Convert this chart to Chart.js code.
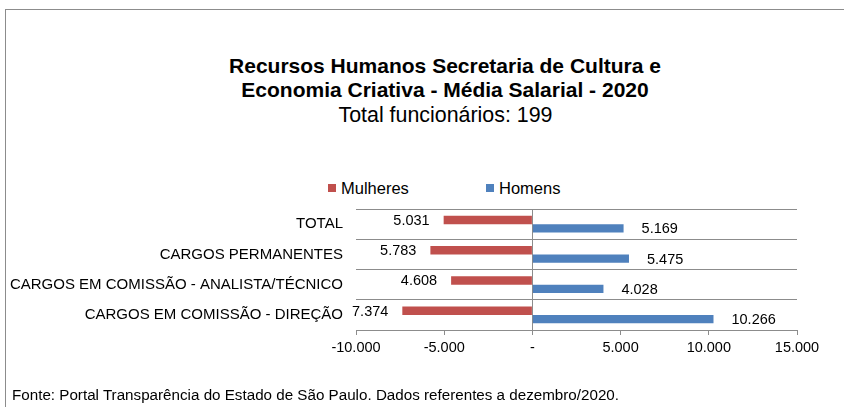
<!DOCTYPE html>
<html lang="pt-BR">
<head>
<meta charset="utf-8">
<script src="https://cdn.jsdelivr.net/npm/chart.js@4"></script>
<style>
  html, body { margin: 0; padding: 0; background: #fff; overflow: hidden; }
  body { width: 844px; height: 407px; position: relative; font-family: "Liberation Sans", Arial, sans-serif; color: #000; }
  #frame { position: absolute; left: 5px; top: 9px; width: 900px; height: 500px; border: 1px solid #8c8c8c; box-sizing: border-box; }
  #title { position: absolute; left: 0; top: 54px; width: 890px; text-align: center; font-weight: bold; font-size: 21px; line-height: 24px; }
  #subtitle { position: absolute; left: 0; top: 103px; width: 891px; text-align: center; font-size: 21.4px; line-height: 24px; }
  #legend { position: absolute; top: 178px; left: 0; height: 20px; }
  .lg-item { position: absolute; top: 0; white-space: nowrap; font-size: 16.5px; line-height: 20px; }
  .lg-box { position: absolute; top: 6px; left: 0; width: 8px; height: 8px; }
  .lg-text { position: absolute; left: 13px; top: 0; }
  #chart { position: absolute; left: 0; top: 0; }
  #footer { position: absolute; left: 12px; top: 386px; font-size: 15.2px; line-height: 18px; white-space: nowrap; }
</style>
</head>
<body>
<div id="frame"></div>
<div id="title">Recursos Humanos Secretaria de Cultura e<br>Economia Criativa - Média Salarial - 2020</div>
<div id="subtitle">Total funcionários: 199</div>
<div id="legend"></div>
<canvas id="chart" width="844" height="407"></canvas>
<div id="footer">Fonte: Portal Transparência do Estado de São Paulo. Dados referentes a dezembro/2020.</div>
<script>
// Categories (top to bottom)
const categorias = [
  'TOTAL',
  'CARGOS PERMANENTES',
  'CARGOS EM COMISSÃO - ANALISTA/TÉCNICO',
  'CARGOS EM COMISSÃO - DIREÇÃO'
];
// Average salary, women drawn to the left (negative)
const mulheres = [-5031, -5783, -4608, -7374];
const homens = [5169, 5475, 4028, 10266];
const seriesNames = ['Mulheres', 'Homens'];
const seriesColors = ['#C0504D', '#4F81BD'];
// x axis ticks
const xMin = -10000;
const xMax = 15000;
const xStep = 5000;

const gridColor = '#8c8c8c';

// 10266 -> "10.266", 0 -> "-"
function fmt(v, keepSign) {
  if (v === 0) return '-';
  const s = String(Math.abs(v)).replace(/\B(?=(\d{3})+(?!\d))/g, '.');
  return (keepSign && v < 0 ? '-' : '') + s;
}

// value labels next to the bar ends
const barLabels = {
  id: 'barLabels',
  afterDatasetsDraw(chart) {
    const ctx = chart.ctx;
    ctx.save();
    ctx.font = '14.5px "Liberation Sans", Arial, sans-serif';
    ctx.fillStyle = '#000';
    ctx.textBaseline = 'middle';
    chart.data.datasets.forEach((ds, di) => {
      const meta = chart.getDatasetMeta(di);
      meta.data.forEach((bar, i) => {
        const v = ds.data[i];
        if (v < 0) {
          ctx.textAlign = 'right';
          ctx.fillText(fmt(v, false), bar.x - 14, bar.y + 1);
        } else {
          ctx.textAlign = 'left';
          ctx.fillText(fmt(v, false), bar.x + 18, bar.y + 1);
        }
      });
    });
    ctx.restore();
  }
};

const chart = new Chart(document.getElementById('chart'), {
  type: 'bar',
  data: {
    labels: categorias,
    datasets: [
      { label: seriesNames[0], data: mulheres, backgroundColor: seriesColors[0], categoryPercentage: 0.56, barPercentage: 1 },
      { label: seriesNames[1], data: homens, backgroundColor: seriesColors[1], categoryPercentage: 0.56, barPercentage: 1 }
    ]
  },
  options: {
    indexAxis: 'y',
    responsive: false,
    devicePixelRatio: 1,
    animation: false,
    layout: { padding: { top: 209, left: 0, right: 47, bottom: 0 } },
    plugins: {
      legend: { display: false },
      title: { display: false },
      tooltip: { enabled: false }
    },
    scales: {
      x: {
        type: 'linear',
        min: xMin,
        max: xMax,
        afterFit: s => { s.height = 77; },
        border: { display: true, color: gridColor, width: 1 },
        grid: {
          color: c => (c.tick && c.tick.value === 0 ? gridColor : 'rgba(0,0,0,0)'),
          tickColor: gridColor,
          tickLength: 5,
          lineWidth: 1
        },
        ticks: {
          stepSize: xStep,
          padding: 4,
          color: '#000',
          font: { family: '"Liberation Sans", Arial, sans-serif', size: 14.5 },
          maxRotation: 0,
          autoSkip: false,
          callback: v => fmt(v, true)
        }
      },
      y: {
        afterFit: s => { s.width = 356; },
        border: { display: false },
        grid: { color: gridColor, lineWidth: 1, drawTicks: false, offset: true },
        ticks: {
          padding: 13,
          color: '#000',
          font: { family: '"Liberation Sans", Arial, sans-serif', size: 15 }
        }
      }
    }
  },
  plugins: [barLabels]
});

// legend built from the series
const legendLeft = [328, 486];
const legendEl = document.getElementById('legend');
seriesNames.forEach((name, i) => {
  const item = document.createElement('div');
  item.className = 'lg-item';
  item.style.left = legendLeft[i] + 'px';
  item.innerHTML = '<span class="lg-box" style="background:' + seriesColors[i] + '"></span><span class="lg-text">' + name + '</span>';
  legendEl.appendChild(item);
});
</script>
</body>
</html>
